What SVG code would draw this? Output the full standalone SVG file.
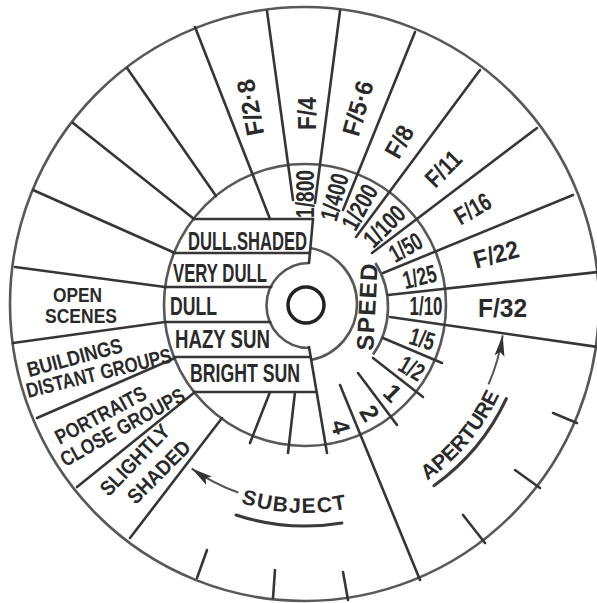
<svg xmlns="http://www.w3.org/2000/svg" width="597" height="603" viewBox="0 0 597 603">
<defs>
<style>
.ln{stroke:#363636;stroke-width:2.6;stroke-linecap:round;fill:none}
.ring{stroke:#585858;stroke-width:2.6;fill:none}
.ul{stroke:#3a3a3a;stroke-width:3;stroke-linecap:round;fill:none}
.arr{stroke:#555;stroke-width:2;fill:none}
.t{font-family:"Liberation Sans",Arial,sans-serif;font-weight:bold;fill:#2a2a2a;font-size:25px}
.c{text-anchor:middle;dominant-baseline:central}
.m{text-anchor:middle}
.lg{font-size:25px}
.sm{font-size:21px}
.xs{font-size:20px}
</style>
<marker id="ah" markerUnits="userSpaceOnUse" markerWidth="24" markerHeight="12" refX="21" refY="6" orient="auto">
<path d="M0,1 L21,6 L0,11 L4,6 Z" fill="#333"/>
</marker>
<path id="subjPath" d="M227.1,497.9 A208,208 0 0 0 362.3,504.9"/>
<path id="apPath" d="M412,490.3 A214,214 0 0 0 506.1,378.2"/>
</defs>
<rect width="597" height="603" fill="#fff"/>

<g id="rings">
<ellipse class="ring" cx="304.5" cy="304" rx="294.5" ry="297"/>
<circle class="ring" cx="305" cy="305" r="141"/>
<path class="ring" d="M375.4,263 A83,83 0 0 1 373,354.6"/>
<circle cx="306" cy="305" r="18" fill="none" stroke="#222" stroke-width="3.5"/>
</g>

<g id="hub">
<path class="ring" d="M310.3,248 A57,57 0 0 1 311,360"/>
<path class="ring" d="M309,263 A42.5,42.5 0 1 0 309,348"/>
<path class="ln" d="M313,219 L309,263"/>
<path class="ln" d="M193.3,219 H313 M174,253 H309.9 M165,287 H271.2 M165,322 H270.3 M174,357 H310.7 M194,392 H316.6"/>
</g>

<g id="connectors" class="ln">
<line x1="33" y1="190" x2="175" y2="253"/>
<line x1="73" y1="123" x2="194" y2="219"/>
<line x1="127" y1="68" x2="216" y2="196"/>
<line x1="195" y1="27" x2="270" y2="219"/>
<line x1="267" y1="11" x2="293" y2="200"/>
<line x1="340" y1="11" x2="315" y2="203"/>
<line x1="415" y1="32" x2="343" y2="210"/>
<line x1="480" y1="70" x2="356" y2="237"/>
<line x1="537" y1="128" x2="372" y2="253"/>
<line x1="573" y1="195" x2="383" y2="273"/>
<line x1="598" y1="272" x2="388" y2="295"/>
<line x1="598" y1="347" x2="390" y2="317"/>
<line x1="383" y1="338" x2="442" y2="363"/>
<line x1="373" y1="358" x2="423" y2="397"/>
<line x1="358" y1="373" x2="397" y2="425"/>
<line x1="340" y1="385" x2="420" y2="580"/>
<line x1="309" y1="347" x2="327" y2="453"/>
<line x1="295" y1="392" x2="288" y2="453"/>
<line x1="270" y1="392" x2="250" y2="443"/>
<line x1="222" y1="418" x2="130" y2="538"/>
<line x1="195" y1="392" x2="77" y2="487"/>
<line x1="175" y1="358" x2="37" y2="418"/>
<line x1="165" y1="322" x2="13" y2="343"/>
<line x1="165" y1="287" x2="15" y2="267"/>
<line x1="207" y1="550" x2="197" y2="578"/>
<line x1="275" y1="570" x2="273" y2="598"/>
<line x1="343" y1="572" x2="348" y2="600"/>
<line x1="463" y1="515" x2="485" y2="543"/>
<line x1="515" y1="470" x2="540" y2="488"/>
<line x1="553" y1="413" x2="577" y2="423"/>
</g>

<g id="arrows">
<path class="arr" d="M488.5,384.4 A200,200 0 0 0 502.7,335.3" marker-end="url(#ah)"/>
<path class="arr" d="M238.2,492.5 A199,199 0 0 1 191.7,468.6" marker-end="url(#ah)"/>
<path class="ul" d="M236,515 A221,221 0 0 0 341.9,522.9"/>
<path class="ul" d="M433.9,485.7 A222,222 0 0 0 506.4,398.5"/>
</g>

<g id="aperture-labels" class="t lg">
<text class="c" transform="translate(250 107.5) rotate(-101)" textLength="57" lengthAdjust="spacingAndGlyphs">F/2·8</text>
<text class="c" transform="translate(307 113.5) rotate(-90)" textLength="33" lengthAdjust="spacingAndGlyphs">F/4</text>
<text class="c" transform="translate(357.5 108) rotate(-74)" textLength="56" lengthAdjust="spacingAndGlyphs">F/5·6</text>
<text class="c" transform="translate(399 141.5) rotate(-61)" textLength="33" lengthAdjust="spacingAndGlyphs">F/8</text>
<text class="c" transform="translate(443 168.5) rotate(-45)" textLength="40" lengthAdjust="spacingAndGlyphs">F/11</text>
<text class="c" transform="translate(472.5 208.5) rotate(-30)" textLength="38" lengthAdjust="spacingAndGlyphs">F/16</text>
<text class="c" transform="translate(496 254) rotate(-15)" textLength="46" lengthAdjust="spacingAndGlyphs">F/22</text>
<text class="c" transform="translate(502.5 307.5)" textLength="49" lengthAdjust="spacingAndGlyphs">F/32</text>
</g>

<g id="speed-labels" class="t">
<text class="c" transform="translate(305 194) rotate(-90)" textLength="48" lengthAdjust="spacingAndGlyphs">1/800</text>
<text class="c" transform="translate(334 197) rotate(-75)" textLength="48" lengthAdjust="spacingAndGlyphs">1/400</text>
<text class="c" transform="translate(359.3 207) rotate(-61)" textLength="48" lengthAdjust="spacingAndGlyphs">1/200</text>
<text class="c" transform="translate(384 226) rotate(-45)" textLength="48" lengthAdjust="spacingAndGlyphs">1/100</text>
<text class="c" transform="translate(405.5 247) rotate(-30)" textLength="34" lengthAdjust="spacingAndGlyphs">1/50</text>
<text class="c" transform="translate(419.5 276.5) rotate(-14)" textLength="34" lengthAdjust="spacingAndGlyphs">1/25</text>
<text class="c" transform="translate(426 306)" textLength="33" lengthAdjust="spacingAndGlyphs">1/10</text>
<text class="c" transform="translate(422.3 338.6) rotate(16)" textLength="25" lengthAdjust="spacingAndGlyphs">1/5</text>
<text class="c" transform="translate(411.8 368) rotate(30.5)" textLength="25" lengthAdjust="spacingAndGlyphs">1/2</text>
<text class="c" transform="translate(392.7 392.7) rotate(45)">1</text>
<text class="c" transform="translate(369.9 413) rotate(59)">2</text>
<text class="c" transform="translate(340.9 426.8) rotate(74)">4</text>
<text class="c" transform="translate(367 307) rotate(-87)" textLength="87" lengthAdjust="spacing" style="font-size:24px">SPEED</text>
</g>

<g id="strip-labels" class="t lg">
<text x="188" y="250" textLength="119" lengthAdjust="spacingAndGlyphs">DULL.SHADED</text>
<text x="173" y="282" textLength="94" lengthAdjust="spacingAndGlyphs">VERY DULL</text>
<text x="170" y="315" textLength="47" lengthAdjust="spacingAndGlyphs">DULL</text>
<text x="175" y="348" textLength="95" lengthAdjust="spacingAndGlyphs">HAZY SUN</text>
<text x="190" y="382" textLength="110" lengthAdjust="spacingAndGlyphs">BRIGHT SUN</text>
</g>

<g id="subject-labels" class="t sm">
<text class="m xs" x="77.5" y="302" textLength="49" lengthAdjust="spacingAndGlyphs">OPEN</text>
<text class="m xs" x="81" y="323" textLength="72" lengthAdjust="spacingAndGlyphs">SCENES</text>
<text class="m" transform="translate(76.5 364.5) rotate(-15)" textLength="98" lengthAdjust="spacingAndGlyphs">BUILDINGS</text>
<text class="m" transform="translate(100.5 380) rotate(-14)" textLength="149" lengthAdjust="spacingAndGlyphs">DISTANT GROUPS</text>
<text class="m" transform="translate(104 421.5) rotate(-28)" textLength="100" lengthAdjust="spacingAndGlyphs">PORTRAITS</text>
<text class="m" transform="translate(126 433.5) rotate(-29)" textLength="139" lengthAdjust="spacingAndGlyphs">CLOSE GROUPS</text>
<text class="m" transform="translate(140 465) rotate(-46)" textLength="90" lengthAdjust="spacingAndGlyphs">SLIGHTLY</text>
<text class="m" transform="translate(164 477) rotate(-45)" textLength="80" lengthAdjust="spacingAndGlyphs">SHADED</text>
</g>

<g id="captions" class="t sm">
<text letter-spacing="1.5"><textPath href="#subjPath" startOffset="50%" text-anchor="middle">SUBJECT</textPath></text>
<text letter-spacing="-0.3"><textPath href="#apPath" startOffset="50%" text-anchor="middle">APERTURE</textPath></text>
</g>
</svg>
